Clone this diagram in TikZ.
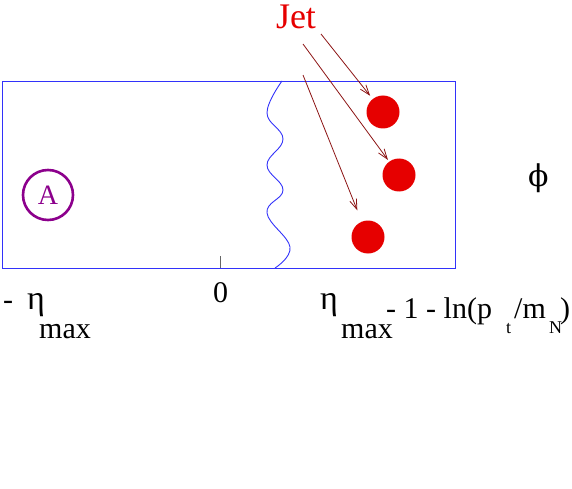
\documentclass[tikz,border=0pt]{standalone}
\usepackage{fontspec}
\setmainfont{Liberation Serif}
\newfontfamily\greekserif{DejaVu Serif}
\usetikzlibrary{arrows.meta}
\definecolor{boxblue}{RGB}{50,50,250}
\definecolor{jetred}{RGB}{230,0,0}
\definecolor{arrowred}{RGB}{140,20,20}
\definecolor{nucpurple}{RGB}{140,0,140}

\begin{document}
\begin{tikzpicture}[x=1pt,y=-1pt,
  lbl/.style={inner sep=0pt, anchor=base west, font=\fontsize{30}{32}\selectfont},
  etalbl/.style={inner sep=0pt, anchor=base west, font=\fontsize{34}{36}\selectfont},
  sublbl/.style={inner sep=0pt, anchor=base west, font=\fontsize{18}{20}\selectfont},
  blob/.style={circle, fill=jetred, minimum size=33pt, inner sep=0pt},
  jetarrow/.style={arrowred, line width=0.8pt, -{Straight Barb[length=10pt,width=7pt]}}]
  \useasboundingbox (0,0) rectangle (572,489);
  % acceptance box, zero mark and the wavy edge
  \draw[boxblue, line width=0.9pt] (2,81) rectangle (455,268);
  \draw[black!60, line width=0.8pt] (220,256) -- (220,268);
  \draw[boxblue, line width=0.9pt] plot[smooth, tension=0.7] coordinates
    {(282,81) (267,113) (283,139) (267,165) (283,190) (267,213) (290,247) (275,268)};
  % nucleus
  \node[circle, draw=nucpurple, line width=2.6pt, minimum size=50pt, inner sep=0pt,
        text=nucpurple, font=\fontsize{28}{30}\selectfont] (nuc) at (48,195) {A};
  % jets
  \node[blob] (j1) at (383,112) {};
  \node[blob] (j2) at (399,175) {};
  \node[blob] (j3) at (368,237) {};
  \node[jetred, inner sep=0pt, font=\fontsize{36}{38}\selectfont] (jet) at (296,17) {Jet};
  \coordinate (s1) at (321,34);
  \coordinate (s2) at (303,44);
  \coordinate (s3) at (303,75);
  \draw[jetarrow, shorten >=4pt] (s1) -- (j1);
  \draw[jetarrow, shorten >=2pt] (s2) -- (j2);
  \draw[jetarrow, shorten >=12pt] (s3) -- (j3);
  % axis labels
  \node[lbl] (phi) at (528,186) {\greekserif ϕ};
  \node[lbl] (minus) at (3,309) {-};
  \node[etalbl] (etaneg) at (27,309) {η};
  \node[lbl] (maxneg) at (39,338) {max};
  \node[lbl] (zero) at (213,302) {0};
  \node[etalbl] (etapos) at (320,309) {η};
  \node[lbl] (maxpos) at (341,338) {max};
  \node[lbl] (lnpart) at (386,318) {- 1 - ln(p};
  \node[sublbl] (tsub) at (506,333) {t};
  \node[lbl] (mpart) at (514,318) {/m};
  \node[sublbl] (nsub) at (549,333) {N};
  \node[lbl] (close) at (560,318) {)};
\end{tikzpicture}
\end{document}
